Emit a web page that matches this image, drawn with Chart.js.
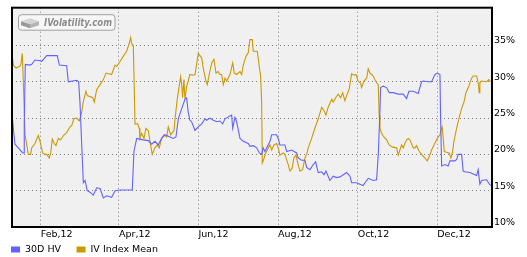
<!DOCTYPE html>
<html><head><meta charset="utf-8">
<script src="https://cdn.jsdelivr.net/npm/chart.js@4"></script>
<style>html,body{margin:0;padding:0;background:#fff;overflow:hidden}canvas{display:block}</style>
</head><body>
<canvas id="c" width="527" height="257" style="width:527px;height:257px"></canvas>
<script>
// Day numbers: 0 = Jan 1, 2012
const seriesNames = ['30D HV', 'IV Index Mean'];
const seriesColors = ['#6262ff', '#cc9900'];

const hvDays = [9.0,10.5,11.3,13.8,17.2,18.2,18.4,19.2,22.8,24.1,
26.6,30.5,31.8,35.6,43.7,45.3,50.9,52.2,58.6,60.1,
61.1,62.4,63.7,65.0,66.7,68.8,71.3,73.9,76.5,79.0,
81.6,85.4,88.0,91.8,101.2,102.5,104.6,107.1,109.6,113.5,
116.1,118.6,121.1,123.7,126.3,130.1,132.6,134.7,136.5,139.1,
141.6,142.9,144.1,145.4,146.7,149.3,151.8,154.4,157.0,158.2,
160.8,163.3,165.9,168.4,170.5,172.3,176.1,177.4,178.2,179.9,
181.2,183.8,186.3,190.1,191.4,194.0,196.6,198.6,200.4,201.6,
202.9,206.8,208.1,211.9,213.1,214.4,218.2,219.6,223.4,227.2,
228.4,231.0,233.6,234.9,237.4,240.0,241.8,242.5,243.8,246.4,
248.2,249.7,252.7,255.3,257.9,260.4,263.0,265.5,268.1,269.4,
273.2,275.7,278.3,279.6,282.1,286.0,288.5,289.8,291.1,291.6,
293.6,296.2,298.2,301.3,305.1,308.9,311.5,313.3,316.6,319.2,
320.4,323.0,324.3,328.1,330.7,333.2,335.0,337.1,337.6,338.4,
340.9,343.4,344.7,348.6,349.9,351.1,353.7,354.9,356.2,360.1,
362.6,365.2,366.4,367.7,369.0,372.8,375.4,376.7];
const hvValues = [25.7,22.7,21.4,20.9,20.2,20.2,24.2,32.4,32.3,32.4,
33.0,32.9,32.8,33.6,33.6,32.3,32.2,30.0,30.2,30.0,
27.2,21.5,16.1,16.4,15.0,14.8,14.4,15.4,15.3,14.0,
14.3,14.1,15.0,15.1,15.1,20.4,22.2,22.1,22.0,21.9,
21.4,21.8,21.3,22.2,22.7,22.4,22.2,22.4,24.9,26.3,
27.6,27.8,25.8,24.7,24.5,23.3,23.8,24.2,24.9,24.7,
25.0,24.7,24.5,24.6,24.2,24.9,25.3,25.4,23.6,25.1,
24.5,22.2,21.8,21.5,21.1,21.2,20.9,20.2,20.0,20.9,
20.4,21.8,22.7,22.7,22.2,21.3,21.3,20.4,20.6,20.2,
19.5,19.2,19.2,18.2,17.9,18.6,19.0,18.4,17.5,17.6,
17.2,17.7,16.4,17.0,16.8,16.9,17.2,17.5,17.0,16.1,
16.1,15.9,15.7,16.1,16.7,16.4,16.5,19.9,26.1,29.2,
29.4,29.2,28.5,28.5,28.3,28.3,27.7,28.7,28.7,28.5,
28.4,30.0,30.1,30.0,30.0,31.0,31.2,31.0,24.9,18.4,
18.6,18.4,19.1,19.1,19.3,20.0,20.0,17.7,17.6,17.5,
17.3,17.1,17.9,15.9,16.4,16.5,15.8,15.7];

const ivDays = [9.0,10.0,12.1,14.6,15.7,16.9,17.7,18.2,19.0,20.3,
21.5,23.3,24.1,26.6,29.2,30.5,32.5,34.3,35.6,37.6,
38.7,39.9,41.4,42.7,44.5,46.3,48.9,50.9,53.5,54.8,
56.5,58.6,60.6,62.4,63.6,65.7,66.7,70.9,72.1,73.9,
76.5,79.0,81.1,85.4,88.0,89.3,91.8,94.3,96.9,98.9,
100.0,100.7,102.0,102.7,103.3,105.3,106.6,107.1,108.4,110.2,
111.7,113.5,114.8,116.5,118.6,120.4,121.9,123.7,125.5,127.6,
128.8,130.6,133.2,133.9,135.7,137.2,138.3,139.1,139.8,140.8,
141.6,142.9,144.1,145.4,148.0,149.3,151.8,154.4,155.6,157.7,
158.7,160.2,162.1,163.8,165.4,167.1,168.4,169.7,171.0,172.3,
173.6,176.1,178.2,179.4,181.2,183.8,185.1,186.3,188.4,190.1,
191.4,193.2,194.0,197.0,198.6,199.6,200.4,200.9,201.6,203.5,
205.5,206.8,208.1,209.8,211.9,213.1,214.4,217.0,218.3,219.6,
220.8,222.1,223.8,225.1,226.7,228.4,229.8,231.8,233.6,234.9,
236.1,238.7,241.2,243.8,246.4,248.2,249.7,251.4,254.1,255.3,
257.1,259.1,261.0,262.5,264.2,266.0,267.5,269.4,271.1,272.7,
274.4,276.3,277.0,278.8,280.9,282.1,283.4,284.7,285.9,287.2,
288.5,289.8,290.5,291.1,292.4,294.1,296.2,298.2,300.8,303.9,
305.1,306.4,307.7,308.9,310.2,311.5,312.8,314.1,316.6,317.9,
319.2,321.2,323.0,325.6,327.3,328.9,330.7,332.5,334.5,335.8,
337.1,337.8,338.8,339.6,340.4,342.2,344.2,345.5,346.8,347.8,
349.9,351.9,353.7,355.5,357.0,358.8,361.4,362.6,365.2,366.4,
367.2,367.7,369.0,372.8,374.6,375.9];
const ivValues = [33.9,32.3,31.9,32.1,32.3,33.9,29.9,27.2,22.7,21.3,
20.0,20.0,20.9,21.5,22.6,21.8,20.2,20.0,20.0,19.5,
20.2,22.1,21.5,21.2,22.2,22.0,22.7,23.0,23.8,24.0,
24.9,25.0,24.6,25.8,27.2,28.7,28.1,27.8,27.2,28.9,
29.6,30.3,31.2,31.0,32.3,32.1,32.8,33.5,34.2,35.3,
36.1,35.3,35.0,29.4,24.2,24.2,23.6,22.2,22.9,22.2,
23.6,23.3,21.8,20.0,20.9,21.3,20.9,22.2,22.7,22.4,
23.8,22.7,23.3,24.7,27.6,29.4,30.7,29.6,27.8,30.3,
27.6,29.4,30.1,31.0,30.9,31.0,33.9,33.3,31.9,30.1,
29.6,31.0,32.6,33.1,31.2,31.4,31.0,31.0,29.6,30.5,
30.1,31.0,32.6,31.2,31.0,31.4,31.0,32.3,33.5,34.0,
35.8,35.8,34.2,34.2,32.1,30.8,27.2,18.8,19.1,20.2,
20.9,21.3,20.6,21.3,21.5,20.9,19.9,20.2,20.0,19.2,
18.6,17.7,18.1,19.5,19.9,18.6,17.7,17.9,19.5,20.0,
20.9,22.2,23.6,24.9,26.5,26.0,25.4,26.5,27.6,27.2,
27.8,28.3,27.8,28.5,27.4,28.3,29.0,31.1,30.9,31.0,
30.1,29.8,29.2,30.1,30.5,31.8,31.2,31.0,30.8,30.3,
29.9,29.6,25.4,23.6,22.9,22.4,22.0,21.3,21.0,20.9,
19.9,20.6,21.3,20.9,21.5,22.0,22.2,22.0,20.9,20.9,
21.2,20.4,20.0,19.5,19.1,19.7,20.6,21.3,22.0,22.4,
22.7,23.3,23.8,22.2,20.4,20.3,20.2,19.5,20.4,21.8,
23.6,25.1,26.3,27.2,28.5,29.2,30.5,30.8,30.8,29.9,
28.5,29.9,30.1,30.0,30.3,30.0];

const tickDays = [31, 91, 152, 213, 274, 335];
const tickLabels = ['Feb,12', 'Apr,12', 'Jun,12', 'Aug,12', 'Oct,12', 'Dec,12'];
const yTickValues = [10, 15, 20, 25, 30, 35];
const logoText = 'IVolatility.com';

const FONT = '"DejaVu Sans", Verdana, sans-serif';
const FS = 9.5;

function toPoints(xs, ys) { return xs.map((x, i) => ({x: x, y: ys[i]})); }

const framePlugin = {
  id: 'frame',
  beforeDraw(chart) {
    const {ctx, chartArea: a} = chart;
    ctx.save();
    ctx.fillStyle = '#f0f0f0';
    ctx.fillRect(a.left, a.top, a.right - a.left, a.bottom - a.top);
    ctx.restore();
  },
  beforeDatasetsDraw(chart) {
    const {ctx, chartArea: a} = chart;
    const x0 = a.left + 6.5, y0 = a.top + 7, w = 96.5, h = 15.5, r = 3;
    ctx.save();
    ctx.beginPath();
    ctx.roundRect(x0, y0, w, h, r);
    ctx.fillStyle = '#f6f6f6';
    ctx.fill();
    ctx.lineWidth = 1;
    ctx.strokeStyle = '#a0a0a0';
    ctx.stroke();
    // box icon
    const ix = x0 + 2.5, iy = y0 + 2.5;
    ctx.beginPath();
    ctx.moveTo(ix, iy + 4); ctx.lineTo(ix + 9, iy + 1); ctx.lineTo(ix + 18, iy + 4); ctx.lineTo(ix + 9, iy + 7); ctx.closePath();
    ctx.fillStyle = '#d4d4d4'; ctx.fill();
    ctx.beginPath();
    ctx.moveTo(ix, iy + 4); ctx.lineTo(ix + 9, iy + 7); ctx.lineTo(ix + 9, iy + 11); ctx.lineTo(ix, iy + 8); ctx.closePath();
    ctx.fillStyle = '#9a9a9a'; ctx.fill();
    ctx.beginPath();
    ctx.moveTo(ix + 9, iy + 7); ctx.lineTo(ix + 18, iy + 4); ctx.lineTo(ix + 18, iy + 8); ctx.lineTo(ix + 9, iy + 11); ctx.closePath();
    ctx.fillStyle = '#b4b4b4'; ctx.fill();
    // text
    ctx.font = 'italic bold 11px ' + FONT;
    const tw = ctx.measureText(logoText).width;
    const target = 68;
    ctx.fillStyle = '#8c8c8c';
    ctx.textBaseline = 'middle';
    ctx.textAlign = 'left';
    ctx.translate(x0 + 25.5, y0 + h / 2 + 0.5);
    ctx.scale(target / tw, 1);
    ctx.fillText(logoText, 0, 0);
    ctx.restore();
  },
  afterDraw(chart) {
    const {ctx, chartArea: a} = chart;
    ctx.save();
    ctx.strokeStyle = '#000';
    ctx.lineWidth = 2;
    ctx.strokeRect(a.left, a.top, a.right - a.left, a.bottom - a.top);
    // legend
    ctx.font = FS + 'px ' + FONT;
    ctx.textBaseline = 'middle';
    ctx.textAlign = 'left';
    let x = 11;
    const cy = 249.5;
    chart.data.datasets.forEach((ds) => {
      ctx.fillStyle = ds.borderColor;
      ctx.fillRect(x, cy - 3, 9, 6);
      ctx.fillStyle = '#000';
      ctx.fillText(ds.label, x + 14, cy);
      x += 14 + ctx.measureText(ds.label).width + 15.5;
    });
    ctx.restore();
  }
};

new Chart(document.getElementById('c'), {
  type: 'line',
  data: {
    datasets: [
      {label: seriesNames[0], data: toPoints(hvDays, hvValues), borderColor: seriesColors[0], backgroundColor: seriesColors[0]},
      {label: seriesNames[1], data: toPoints(ivDays, ivValues), borderColor: seriesColors[1], backgroundColor: seriesColors[1]}
    ]
  },
  options: {
    responsive: false,
    animation: false,
    devicePixelRatio: 1,
    layout: {padding: {left: 12, top: 4, right: 0, bottom: 0}},
    plugins: {legend: {display: false}, tooltip: {enabled: false}},
    elements: {point: {radius: 0}, line: {borderWidth: 1.1, tension: 0}},
    scales: {
      x: {
        type: 'linear', min: 9, max: 377,
        afterBuildTicks: (s) => { s.ticks = tickDays.map(v => ({value: v})); },
        afterFit: (s) => { s.height = 30; },
        grid: {color: '#808080', lineWidth: 1, drawTicks: false},
        border: {display: false, dash: [1, 3]},
        ticks: {align: 'start', padding: 1.5, color: '#000', maxRotation: 0, autoSkip: false,
          font: {family: FONT, size: FS},
          callback: (v, i) => tickLabels[i]}
      },
      y: {
        position: 'right', min: 10, max: 40.2,
        afterBuildTicks: (s) => { s.ticks = yTickValues.map(v => ({value: v})); },
        afterFit: (s) => { s.width = 35; },
        grid: {color: '#808080', lineWidth: 1, drawTicks: false},
        border: {display: false, dash: [1, 3]},
        ticks: {padding: 2, labelOffset: -4.5, color: '#000',
          font: {family: FONT, size: FS},
          callback: (v) => v + '%'}
      }
    }
  },
  plugins: [framePlugin]
});
</script>
</body></html>
